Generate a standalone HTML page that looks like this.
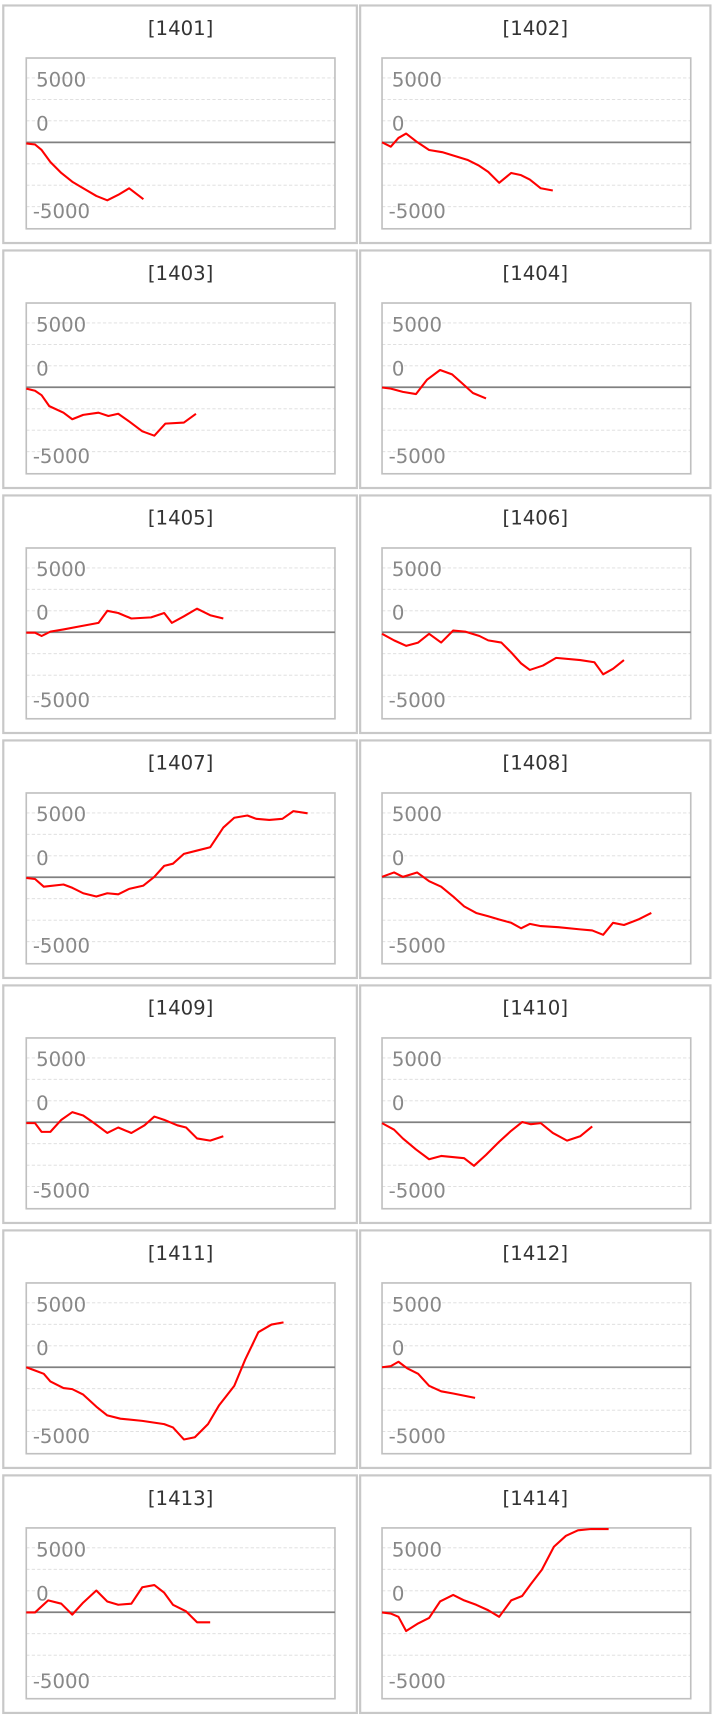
<!DOCTYPE html>
<html><head><meta charset="utf-8"><style>
html,body{margin:0;padding:0;background:#fff;width:717px;height:1716px;overflow:hidden}
svg{display:block}
text{font-family:"DejaVu Sans","Liberation Sans",sans-serif}
.t{font-size:18px;fill:#333;text-anchor:middle}
.l{font-size:18px;fill:#888}
</style></head><body>
<svg id="s" width="717" height="1716" viewBox="0 0 655 1567.6" xmlns="http://www.w3.org/2000/svg">
<g id="g"></g>
<g>
<text class="t" x="165" y="32">[1401]</text><text class="t" x="489" y="32">[1402]</text>
<text class="t" x="165" y="256">[1403]</text><text class="t" x="489" y="256">[1404]</text>
<text class="t" x="165" y="479">[1405]</text><text class="t" x="489" y="479">[1406]</text>
<text class="t" x="165" y="703">[1407]</text><text class="t" x="489" y="703">[1408]</text>
<text class="t" x="165" y="927">[1409]</text><text class="t" x="489" y="927">[1410]</text>
<text class="t" x="165" y="1151">[1411]</text><text class="t" x="489" y="1151">[1412]</text>
<text class="t" x="165" y="1375">[1413]</text><text class="t" x="489" y="1375">[1414]</text>

<text class="l" x="33" y="79">5000</text><text class="l" x="33" y="119">0</text><text class="l" x="30" y="199">-5000</text>
<text class="l" x="358" y="79">5000</text><text class="l" x="358" y="119">0</text><text class="l" x="355" y="199">-5000</text>
<text class="l" x="33" y="303">5000</text><text class="l" x="33" y="343">0</text><text class="l" x="30" y="423">-5000</text>
<text class="l" x="358" y="303">5000</text><text class="l" x="358" y="343">0</text><text class="l" x="355" y="423">-5000</text>
<text class="l" x="33" y="526">5000</text><text class="l" x="33" y="566">0</text><text class="l" x="30" y="646">-5000</text>
<text class="l" x="358" y="526">5000</text><text class="l" x="358" y="566">0</text><text class="l" x="355" y="646">-5000</text>
<text class="l" x="33" y="750">5000</text><text class="l" x="33" y="790">0</text><text class="l" x="30" y="870">-5000</text>
<text class="l" x="358" y="750">5000</text><text class="l" x="358" y="790">0</text><text class="l" x="355" y="870">-5000</text>
<text class="l" x="33" y="974">5000</text><text class="l" x="33" y="1014">0</text><text class="l" x="30" y="1094">-5000</text>
<text class="l" x="358" y="974">5000</text><text class="l" x="358" y="1014">0</text><text class="l" x="355" y="1094">-5000</text>
<text class="l" x="33" y="1198">5000</text><text class="l" x="33" y="1238">0</text><text class="l" x="30" y="1318">-5000</text>
<text class="l" x="358" y="1198">5000</text><text class="l" x="358" y="1238">0</text><text class="l" x="355" y="1318">-5000</text>
<text class="l" x="33" y="1422">5000</text><text class="l" x="33" y="1462">0</text><text class="l" x="30" y="1542">-5000</text>
<text class="l" x="358" y="1422">5000</text><text class="l" x="358" y="1462">0</text><text class="l" x="355" y="1542">-5000</text>
</g>
</svg>
<script>
(function(){
var NS="http://www.w3.org/2000/svg",g=document.getElementById("g");
function el(n,a){var e=document.createElementNS(NS,n);for(var k in a)e.setAttribute(k,a[k]);g.appendChild(e);return e;}
var data=[
[[24,131],[32,132],[38,137],[46,148],[56,158],[66,166],[76,172],[88,179],[98,183],[108,178],[118,172],[131,182]],
[[349,130],[357,134],[364,126],[371,122],[380,129],[392,137],[404,139],[414,142],[427,146],[437,151],[446,157],[456,167],[467,158],[476,160],[484,164],[494,172],[505,174]],
[[24,355],[32,357],[38,361],[45,371],[58,377],[66,383],[76,379],[90,377],[99,380],[108,378],[118,385],[130,394],[141,398],[151,387],[168,386],[179,378]],
[[349,354],[357,355],[368,358],[380,360],[390,347],[402,338],[413,342],[422,350],[432,359],[444,364]],
[[24,578],[32,578],[38,581],[46,577],[58,575],[74,572],[90,569],[98,558],[108,560],[120,565],[138,564],[150,560],[157,569],[168,563],[180,556],[192,562],[204,565]],
[[349,579],[360,585],[371,590],[382,587],[392,579],[403,587],[414,576],[425,577],[438,581],[446,585],[458,587],[467,596],[476,606],[484,612],[496,608],[508,601],[530,603],[543,605],[551,616],[560,611],[570,603]],
[[24,802],[32,803],[40,810],[58,808],[66,811],[76,816],[88,819],[98,816],[108,817],[118,812],[131,809],[141,801],[150,791],[158,789],[168,780],[180,777],[192,774],[204,756],[214,747],[226,745],[234,748],[246,749],[258,748],[268,741],[281,743]],
[[349,801],[360,797],[368,801],[381,797],[392,805],[403,810],[414,819],[424,828],[435,834],[446,837],[456,840],[467,843],[476,848],[484,844],[494,846],[510,847],[530,849],[541,850],[551,854],[560,843],[570,845],[583,840],[595,834]],
[[24,1026],[32,1026],[38,1034],[46,1034],[56,1023],[66,1016],[76,1019],[86,1026],[98,1035],[108,1030],[120,1035],[132,1028],[141,1020],[150,1023],[162,1028],[170,1030],[180,1040],[192,1042],[204,1038]],
[[349,1026],[360,1032],[368,1040],[380,1050],[392,1059],[403,1056],[424,1058],[433,1065],[444,1055],[456,1043],[467,1033],[477,1025],[485,1027],[494,1026],[505,1035],[518,1042],[530,1038],[541,1029]],
[[24,1249],[32,1252],[40,1255],[46,1262],[58,1268],[66,1269],[76,1274],[88,1285],[98,1293],[110,1296],[130,1298],[150,1301],[158,1304],[168,1315],[178,1313],[190,1301],[200,1284],[214,1266],[224,1242],[236,1217],[248,1210],[259,1208]],
[[349,1249],[357,1248],[364,1244],[372,1250],[382,1255],[392,1266],[403,1271],[414,1273],[434,1277]],
[[24,1473],[32,1473],[44,1462],[56,1465],[66,1475],[76,1464],[88,1453],[98,1463],[108,1466],[120,1465],[130,1450],[141,1448],[150,1455],[158,1466],[170,1472],[180,1482],[192,1482]],
[[349,1473],[357,1474],[364,1477],[371,1490],[382,1483],[392,1478],[402,1463],[414,1457],[424,1462],[435,1466],[446,1471],[456,1477],[467,1462],[477,1458],[485,1447],[495,1434],[506,1413],[517,1403],[528,1398],[540,1396],[556,1396]]
];
for(var i=0;i<14;i++){
 var r=Math.floor(i/2),c=i%2,rt=5+223.8*r;
 var bx=c?329:3,bw=c?320:323;
 el("rect",{x:bx,y:rt,width:bw,height:217,fill:"none",stroke:"#c8c8c8","stroke-width":2});
 var px=c?349:24,pw=282,pt=rt+48,ph=156,z=rt+125;
 [-58.8,-39.2,-19.6,19.6,39.2,58.8].forEach(function(d){
  el("line",{x1:px,x2:px+pw,y1:z+d,y2:z+d,stroke:"#dcdcdc","stroke-width":0.8,"stroke-dasharray":"3,2"});});
 el("rect",{x:px,y:pt,width:pw,height:ph,fill:"none",stroke:"#c0c0c0","stroke-width":1.5});
 el("line",{x1:px,x2:px+pw,y1:z,y2:z,stroke:"#808080","stroke-width":1.6});
 var pts=data[i].map(function(p){return p[0]+","+Math.max(p[1],pt+1);}).join(" ");
 el("polyline",{points:pts,fill:"none",stroke:"#ff0000","stroke-width":1.9,"stroke-linejoin":"round"});
}
})();
</script>
</body></html>
